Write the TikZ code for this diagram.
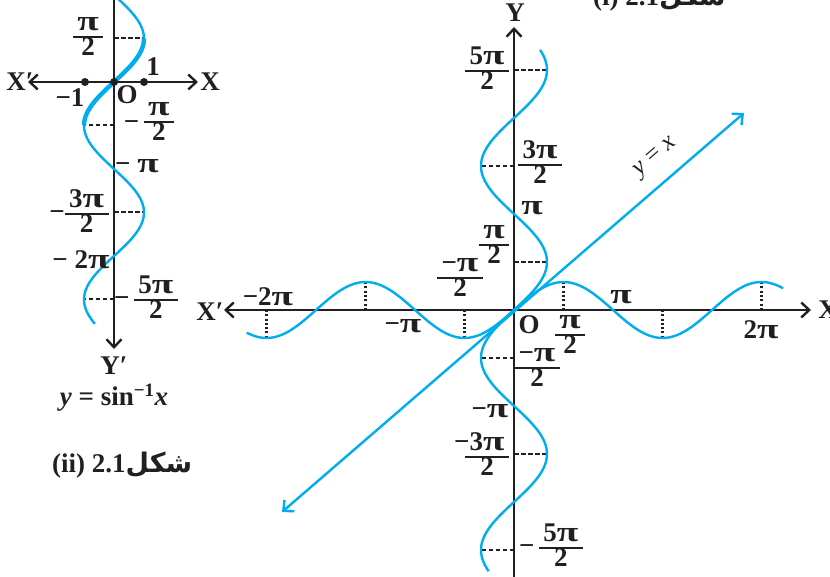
\documentclass[tikz,border=0pt]{standalone}
\usepackage{fontspec}
\usepackage{graphicx}
\setmainfont{Liberation Serif}
\newfontfamily\urdufont[Script=Arabic]{DejaVu Sans}
\TeXXeTstate=1
\usetikzlibrary{arrows.meta}
\definecolor{curvecyan}{RGB}{0,173,238}
\definecolor{axisink}{RGB}{35,31,32}
\newcommand{\p}{\scalebox{1.45}[1.05]{π}}
\newcommand{\fr}[2]{{\renewcommand{\arraystretch}{0.74}\setlength{\arrayrulewidth}{1.7pt}\begin{tabular}{@{\,}c@{\,}}#1\\\hline #2\end{tabular}}}
\newcommand{\shakl}{{\urdufont\beginR شکل\endR}}

\begin{document}
\begin{tikzpicture}[
    x=1pt, y=-1pt,
    font=\fontsize{27}{27}\selectfont\bfseries,
    >={Straight Barb[length=8pt,width=15pt]},
    axis/.style={draw=axisink, line width=2.4pt},
    curve/.style={draw=curvecyan, line width=2.4pt},
    guide/.style={draw=axisink, line width=2pt, dash pattern=on 4.5pt off 2.5pt},
    drop/.style={draw=axisink, line width=2.2pt, dash pattern=on 2pt off 2.3pt},
    lbl/.style={inner sep=0pt, text=axisink},
    dot/.style={circle, fill=axisink, inner sep=0pt, minimum size=8pt}
  ]
  \useasboundingbox (0,0) rectangle (830,577);
  \clip (0,0) rectangle (830,577);

  % left figure: y = sin^{-1} x
  \coordinate (lxl) at (28,82);
  \coordinate (lxr) at (198,82);
  \coordinate (lyt) at (114,-4);
  \coordinate (lyb) at (114,349);
  \draw[axis,<->] (lxl) -- (lxr);
  \draw[axis,->] (lyt) -- (lyb);
  \foreach \t in {0.5,-0.5,-1.5,-2.5}
    \draw[guide] (114,{82-87*\t}) -- ({114+30*sin(180*\t)},{82-87*\t});
  \draw[curve] plot[domain=-2.78:0.98, samples=150, variable=\t, smooth]
    ({114+30*sin(180*\t)},{82-87*\t});
  \draw[curve, line width=4.4pt] plot[domain=-0.5:0.5, samples=40, variable=\t, smooth]
    ({114+30*sin(180*\t)},{82-87*\t});
  \node[dot] (dm) at (85,82) {};
  \node[dot] (d0) at (114,82) {};
  \node[dot] (dp) at (144,82) {};

  \node[lbl] (lXp) at (20,82) {X′};
  \node[lbl] (lX) at (210,82) {X};
  \node[lbl] (lone) at (153,67) {1};
  \node[lbl] (lmone) at (70,98) {−1};
  \node[lbl] (lO) at (127,95) {O};
  \node[lbl] (lhalf) at (88,39) {\fr{\p}{2}};
  \node[lbl] (lmhalf) at (149,124) {−\,\fr{\p}{2}};
  \node[lbl] (lmpi) at (137,166) {− \p};
  \node[lbl] (lm3half) at (79,214) {−\fr{3\p}{2}};
  \node[lbl] (lm2pi) at (81,260) {− 2\p};
  \node[lbl] (lm5half) at (146,300) {−\,\fr{5\p}{2}};
  \node[lbl] (lYp) at (114,366) {Y′};
  \node[lbl] (lcap) at (114,398) {\textit{y} = sin\textsuperscript{−1}\textit{x}};
  \node[lbl, anchor=base west] (lfig) at (52,472) {(ii) 2.1\shakl};

  % right figure: y = sin x, y = sin^{-1} x and y = x
  \coordinate (rxl) at (224,310);
  \coordinate (rxr) at (811,310);
  \coordinate (ryb) at (514,580);
  \coordinate (ryt) at (514,27);
  \coordinate (yxlo) at (282,512);
  \coordinate (yxhi) at (744,113);
  \draw[axis,<->] (rxl) -- (rxr);
  \draw[axis,->] (ryb) -- (ryt);
  \foreach \t in {2.5,1.5,0.5,-0.5,-1.5,-2.5} {
    \draw[guide] (514,{310-96*\t}) -- ({514+33*sin(180*\t)},{310-96*\t});
    \draw[drop] ({514+99*\t},310) -- ({514+99*\t},{310-28*sin(180*\t)});
  }
  \draw[curve] plot[domain=-2.7:2.72, samples=200, variable=\t, smooth]
    ({514+99*\t},{310-28*sin(180*\t)});
  \draw[curve] plot[domain=-2.72:2.71, samples=200, variable=\t, smooth]
    ({514+33*sin(180*\t)},{310-96*\t});
  \draw[curve,<->] (yxlo) -- (yxhi);

  \node[lbl] (rXp) at (210,312) {X′};
  \node[lbl] (rX) at (828,310) {X};
  \node[lbl] (rY) at (515,13) {Y};
  \node[lbl] (rYp) at (515,592) {Y′};
  \node[lbl] (r5half) at (487,71) {\fr{5\p}{2}};
  \node[lbl] (r3half) at (540,165) {\fr{3\p}{2}};
  \node[lbl] (rpi) at (532,208) {\p};
  \node[lbl] (rhalf) at (494,247) {\fr{\p}{2}};
  \node[lbl] (rmhalfup) at (460,280) {\fr{−\p}{2}};
  \node[lbl] (rO) at (529,325) {O};
  \node[lbl] (rhalfx) at (570,337) {\fr{\p}{2}};
  \node[lbl] (rpix) at (621,297) {\p};
  \node[lbl] (r2pi) at (761,330) {2\p};
  \node[lbl] (rmpix) at (403,326) {−\p};
  \node[lbl] (rm2pix) at (268,297) {−2\p};
  \node[lbl] (rmhalf) at (537,370) {\fr{−\p}{2}};
  \node[lbl] (rmpi) at (490,411) {−\p};
  \node[lbl] (rm3half) at (487,457) {\fr{\llap{−}3\p}{2}};
  \node[lbl] (rm5half) at (551,548) {−\,\fr{5\p}{2}};
  \node[lbl, rotate=41, font=\fontsize{25}{27}\selectfont] (ryx) at (656,158) {\textit{y} = \textit{x}};
  \node[lbl, anchor=base west] (rfig) at (593,6) {(i) 2.1\shakl};
\end{tikzpicture}
\end{document}
